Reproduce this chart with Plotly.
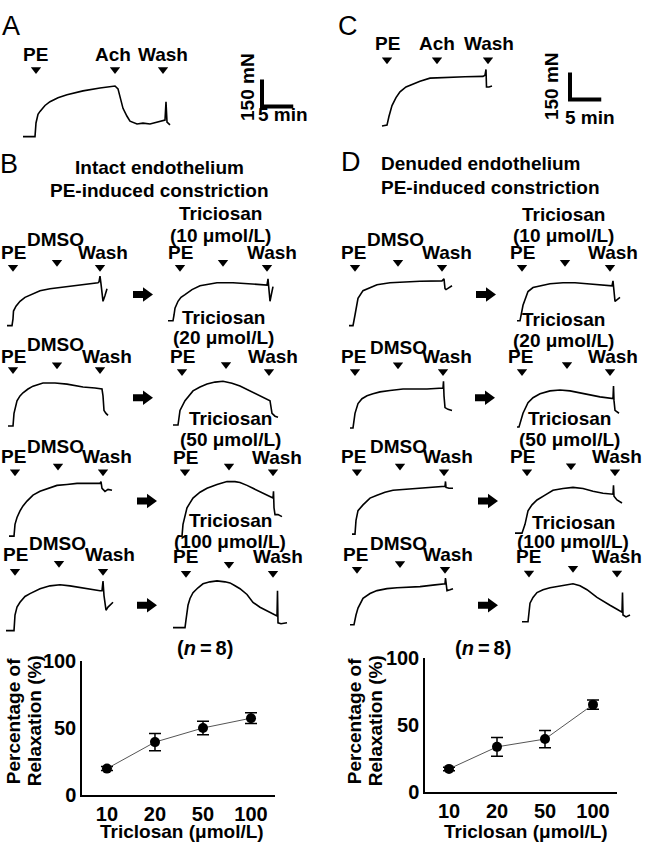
import plotly.graph_objects as go

W, H = 646, 852
MIN_PER_PX = 0.16      # recording time scale (5 min ~ 31 px)
MN_PER_PX = 5.4        # recording tension scale (150 mN ~ 28 px)
FONT = "Liberation Sans, Arial, Helvetica, sans-serif"
FS = 19

# ---------------- data: tension recordings (time in min, tension in mN above baseline) ----------
a_t = [0, 1.92, 2.08, 2.4, 2.72, 3.52, 4.32, 5.6, 7.04, 9.6, 12.32, 13.92, 14.72, 15.2, 15.68, 16.0,
       16.64, 17.12, 18.24, 19.2, 20.32, 21.6, 22.4, 22.72, 22.88, 23.04, 23.52]
a_v = [0, 0, 76, 124, 140, 173, 194, 216, 232, 254, 270, 275, 281, 265, 200, 157,
       113, 86, 70, 75, 70, 81, 86, 92, 194, 81, 65]
a_events = [2.08, 14.72, 22.4]

c_t = [0, 0.8, 1.12, 1.6, 2.24, 2.88, 3.84, 4.96, 6.08, 7.68, 10.4, 13.28, 16.16, 16.48, 16.64, 16.72, 17.12, 17.6]
c_v = [0, 5, 54, 113, 157, 189, 216, 232, 248, 265, 270, 273, 275, 281, 313, 216, 216, 221]
c_events = [0.8, 8.8, 16.96]

b1l_t = [0, 0.8, 0.96, 1.04, 1.44, 2.08, 2.88, 4.16, 5.28, 6.88, 9.6, 12.16, 14.56, 14.72, 14.88, 15.04, 15.36, 15.68, 16.0]
b1l_v = [0, 0, 38, 81, 108, 135, 157, 178, 194, 205, 216, 227, 238, 243, 275, 232, 135, 167, 205]
b1r_t = [0, 0.8, 0.96, 1.12, 1.6, 2.08, 2.72, 3.84, 5.12, 7.84, 10.4, 13.12, 15.52, 15.84, 16.0, 16.08, 16.32, 16.56, 16.8]
b1r_v = [0, 0, 32, 70, 108, 130, 145, 173, 194, 211, 211, 205, 200, 198, 232, 200, 108, 150, 189]
d1l_t = [0, 0.64, 0.96, 1.44, 2.24, 3.36, 4.48, 6.56, 8.64, 11.36, 14.88, 15.04, 15.2, 15.36, 15.52, 16.48]
d1l_v = [0, 0, 59, 151, 194, 211, 227, 238, 243, 246, 248, 254, 259, 205, 200, 221]
d1r_t = [0, 0.48, 0.96, 1.76, 2.56, 3.68, 5.28, 7.36, 9.28, 11.2, 13.28, 15.2, 15.36, 15.52, 15.68, 16.48]
d1r_v = [0, 0, 86, 162, 184, 194, 205, 211, 211, 205, 200, 194, 221, 151, 108, 130]

b2l_t = [0, 0.8, 0.96, 1.44, 1.92, 2.4, 3.2, 4.0, 5.6, 7.52, 9.44, 12.0, 13.92, 15.04, 15.2, 15.36, 15.68, 16.0]
b2l_v = [0, 0, 70, 140, 167, 184, 205, 221, 238, 238, 232, 216, 211, 205, 167, 86, 70, 59]
b2r_t = [0, 0.8, 1.12, 1.92, 3.2, 4.32, 5.44, 6.72, 8.0, 9.44, 10.72, 12.0, 13.44, 14.4, 15.2, 15.52, 15.84, 16.32, 16.8]
b2r_v = [0, 0, 81, 135, 189, 211, 227, 238, 243, 232, 216, 194, 173, 157, 140, 135, 65, 49, 43]
d2l_t = [0, 0.48, 0.8, 1.28, 1.92, 2.72, 3.68, 4.8, 6.4, 8.48, 10.4, 12.32, 14.88, 14.96, 15.04, 15.2, 15.68, 16.32]
d2l_v = [0, 0, 81, 135, 162, 178, 189, 200, 208, 216, 216, 216, 221, 259, 178, 113, 103, 97]
d2r_t = [0, 0.32, 0.96, 1.76, 2.56, 3.68, 5.28, 6.88, 8.48, 10.08, 11.68, 13.28, 15.36, 15.44, 15.52, 15.68, 16.32]
d2r_v = [0, 0, 76, 135, 162, 184, 200, 205, 200, 189, 178, 167, 157, 227, 146, 92, 76]

b3l_t = [0, 0.8, 0.96, 1.28, 1.76, 2.24, 2.88, 3.84, 4.96, 6.24, 7.68, 9.28, 10.88, 12.96, 14.56, 14.72, 14.88, 15.36, 15.84, 16.48]
b3l_v = [0, 0, 65, 103, 140, 167, 194, 227, 248, 265, 281, 286, 292, 292, 292, 302, 265, 248, 259, 254]
b3r_t = [0, 0.64, 0.8, 1.12, 1.44, 1.92, 2.4, 3.52, 4.64, 6.24, 7.84, 9.12, 9.92, 11.04, 12.0, 13.12, 14.24, 15.2,
         15.28, 15.36, 15.52, 16.0, 16.64]
b3r_v = [0, 0, 65, 113, 157, 184, 211, 243, 265, 286, 302, 302, 297, 281, 265, 248, 227, 211,
         248, 157, 119, 119, 108]
d3l_t = [0, 0.48, 0.64, 0.96, 1.76, 2.88, 4.0, 5.28, 6.56, 8.48, 10.88, 13.28, 14.88, 14.96, 15.04, 15.52, 16.16]
d3l_v = [0, 0, 76, 130, 162, 200, 216, 232, 243, 248, 254, 259, 265, 292, 259, 254, 254]
d3r_t = [0, 1.12, 1.6, 2.08, 2.72, 3.52, 4.8, 6.08, 7.68, 9.28, 10.88, 12.48, 14.08, 15.68, 15.76, 15.84, 16.32, 17.12]
d3r_v = [0, 0, 49, 124, 157, 184, 211, 238, 248, 254, 248, 232, 221, 216, 265, 205, 184, 167]

b4l_t = [0, 1.28, 1.44, 1.76, 2.24, 3.04, 3.84, 5.44, 7.04, 8.64, 10.24, 11.84, 13.44, 15.04, 15.36, 15.52, 15.68, 16.0, 16.32, 17.12]
b4l_v = [0, 0, 86, 130, 157, 189, 205, 232, 248, 254, 248, 238, 227, 221, 221, 275, 194, 113, 130, 157]
b4r_t = [0, 1.92, 2.08, 2.4, 2.72, 3.2, 4.0, 4.8, 5.92, 7.04, 8.32, 9.12, 9.92, 10.72, 11.84, 12.8, 13.92, 15.04,
         16.64, 16.72, 16.8, 17.28, 18.24]
b4r_v = [0, 0, 43, 124, 162, 194, 221, 243, 254, 259, 254, 248, 232, 216, 184, 140, 113, 92,
         65, 205, 27, 22, 27]
d4l_t = [0, 0.64, 0.96, 1.28, 2.08, 3.2, 4.32, 5.92, 7.52, 9.6, 11.2, 13.6, 15.2, 15.28, 15.36, 15.52, 16.0, 16.48]
d4l_v = [0, 0, 54, 92, 146, 173, 189, 200, 205, 208, 211, 221, 227, 259, 216, 189, 194, 200]
d4r_t = [0, 0.96, 1.28, 1.76, 2.4, 3.36, 4.48, 6.08, 8.16, 9.28, 10.4, 12.0, 12.96, 14.08, 15.2, 16.0, 16.08, 16.16, 16.64, 17.28]
d4r_v = [0, 0, 103, 135, 162, 178, 189, 200, 211, 200, 178, 135, 113, 92, 70, 54, 162, 38, 27, 38]

# event times (min): PE, DMSO / triclosan, Wash
b1l_ev = [0.96, 8.0, 14.88];  b1r_ev = [1.92, 8.8, 15.84]
d1l_ev = [0.96, 7.84, 14.88]; d1r_ev = [0.8, 7.68, 14.88]
b2l_ev = [0.8, 7.84, 14.72];  b2r_ev = [1.44, 8.48, 15.36]
d2l_ev = [0.8, 7.68, 14.88];  d2r_ev = [0.8, 8.0, 14.88]
b3l_ev = [0.96, 7.84, 15.04]; b3r_ev = [1.12, 8.16, 15.2]
d3l_ev = [0.8, 7.68, 14.72];  d3r_ev = [1.92, 8.96, 16.0]
b4l_ev = [1.44, 8.48, 15.52]; b4r_ev = [2.08, 8.96, 16.0]
d4l_ev = [1.12, 8.0, 15.2];   d4r_ev = [1.12, 8.16, 15.2]

SCALE_MIN = 5
SCALE_MN = 150

concentrations = ["10", "20", "50", "100"]
intact_mean = [19.8, 39.5, 50.0, 57.3]
intact_sem = [1.5, 6.5, 5.0, 4.0]
denuded_mean = [17.4, 33.8, 39.6, 65.2]
denuded_sem = [1.3, 7.0, 6.4, 3.5]

dose_labels = ["10", "20", "50", "100"]

# ---------------- figure ----------------
fig = go.Figure()
annotations = []
shapes = []
axes = {}


def keys(n):
    if n == 1:
        return "xaxis", "yaxis", "x", "y"
    return f"xaxis{n}", f"yaxis{n}", f"x{n}", f"y{n}"


def add_frame(n, ox, oy, left=8, right=150, up=100, down=28):
    xk, yk, xr, yr = keys(n)
    x0 = max(ox - left, 0); x1 = min(ox + right, W)
    y0 = max(oy - up, 0); y1 = min(oy + down, H)
    axes[xk] = dict(domain=[x0 / W, x1 / W], range=[(x0 - ox) * MIN_PER_PX, (x1 - ox) * MIN_PER_PX],
                    visible=False, anchor=yr, fixedrange=True)
    axes[yk] = dict(domain=[1 - y1 / H, 1 - y0 / H], range=[(oy - y1) * MN_PER_PX, (oy - y0) * MN_PER_PX],
                    visible=False, anchor=xr, fixedrange=True)
    return xr, yr


def txt(text, x, y, size=FS, bold=True, xanchor="center", angle=0):
    annotations.append(dict(text=(f"<b>{text}</b>" if bold else text), x=x / W, y=1 - y / H,
                            xref="paper", yref="paper", showarrow=False, xanchor=xanchor,
                            yanchor="middle", textangle=angle,
                            font=dict(family=FONT, size=size, color="black")))


L3 = ["PE", "DMSO", "Wash"]
R3 = ["PE", "", "Wash"]

recs = [
    dict(t=a_t, v=a_v, ox=23, oy=129, ev=a_events, lab=["PE", "Ach", "Wash"], arr=[373] * 3, lv=[454] * 3, xs=[-1, -2, 0], right=290, scale=(38.24, 167)),
    dict(t=c_t, v=c_v, ox=382, oy=118, ev=c_events, lab=["PE", "Ach", "Wash"], arr=[367] * 3, lv=[459] * 3, xs=[0, 0, 1], right=230, scale=(30.08, 146)),
    dict(t=b1l_t, v=b1l_v, ox=7, oy=323, ev=b1l_ev, lab=L3, arr=[324, 351, 324], lv=[405, 475, 405], xs=[0, -2, 3]),
    dict(t=b1r_t, v=b1r_v, ox=168, oy=318, ev=b1r_ev, lab=R3, arr=[297, 324, 297], lv=[378, 0, 378], xs=[0, 0, 5]),
    dict(t=d1l_t, v=d1l_v, ox=349, oy=323, ev=d1l_ev, lab=L3, arr=[324, 351, 324], lv=[405, 475, 405], xs=[-2, -3, 5]),
    dict(t=d1r_t, v=d1r_v, ox=517, oy=318, ev=d1r_ev, lab=R3, arr=[297, 324, 297], lv=[378, 0, 378], xs=[0, 0, 3]),
    dict(t=b2l_t, v=b2l_v, ox=8, oy=426, ev=b2l_ev, lab=L3, arr=[313, 340, 313], lv=[383, 454, 383], xs=[0, -2, 7]),
    dict(t=b2r_t, v=b2r_v, ox=173, oy=425, ev=b2r_ev, lab=R3, arr=[297, 335, 297], lv=[378, 0, 378], xs=[0, 0, 4]),
    dict(t=d2l_t, v=d2l_v, ox=350, oy=428, ev=d2l_ev, lab=L3, arr=[313, 351, 313], lv=[394, 448, 394], xs=[-2, 0, 4]),
    dict(t=d2r_t, v=d2r_v, ox=517, oy=427, ev=d2r_ev, lab=R3, arr=[308, 346, 308], lv=[389, 0, 389], xs=[-2, 0, 3]),
    dict(t=b3l_t, v=b3l_v, ox=9, oy=539, ev=b3l_ev, lab=L3, arr=[356, 389, 356], lv=[443, 497, 443], xs=[-2, -3, 4]),
    dict(t=b3r_t, v=b3r_v, ox=178, oy=539, ev=b3r_ev, lab=R3, arr=[356, 389, 356], lv=[437, 0, 437], xs=[0, 0, 4]),
    dict(t=d3l_t, v=d3l_v, ox=352, oy=537, ev=d3l_ev, lab=L3, arr=[346, 378, 346], lv=[432, 486, 432], xs=[-4, -2, 4]),
    dict(t=d3r_t, v=d3r_v, ox=515, oy=536, ev=d3r_ev, lab=R3, arr=[340, 373, 340], lv=[427, 0, 427], xs=[-5, 0, 2]),
    dict(t=b4l_t, v=b4l_v, ox=6, oy=636, ev=b4l_ev, lab=L3, arr=[329, 373, 329], lv=[421, 481, 421], xs=[0, -2, 7]),
    dict(t=b4r_t, v=b4r_v, ox=173, oy=633, ev=b4r_ev, lab=R3, arr=[302, 351, 302], lv=[394, 0, 394], xs=[-1, 0, 5]),
    dict(t=d4l_t, v=d4l_v, ox=350, oy=630, ev=d4l_ev, lab=L3, arr=[308, 340, 308], lv=[389, 448, 389], xs=[-2, -2, 3]),
    dict(t=d4r_t, v=d4r_v, ox=522, oy=627, ev=d4r_ev, lab=R3, arr=[270, 297, 270], lv=[362, 0, 362], xs=[-1, 0, 0]),
]

for i, r in enumerate(recs):
    n = i + 1
    xr, yr = add_frame(n, r["ox"], r["oy"], right=r.get("right", 150))
    fig.add_trace(go.Scatter(x=r["t"], y=r["v"], mode="lines", xaxis=xr, yaxis=yr,
                             line=dict(color="black", width=1.6), hoverinfo="skip", showlegend=False))
    fig.add_trace(go.Scatter(x=r["ev"], y=r["arr"], mode="markers", xaxis=xr, yaxis=yr,
                             marker=dict(symbol="triangle-down", size=9, color="black"),
                             hoverinfo="skip", showlegend=False))
    for e, lab, lv, xs in zip(r["ev"], r["lab"], r["lv"], r["xs"]):
        if lab:
            annotations.append(dict(text=f"<b>{lab}</b>", x=e, y=lv, xref=xr, yref=yr, xshift=xs,
                                    showarrow=False, xanchor="center", yanchor="middle",
                                    font=dict(family=FONT, size=FS, color="black")))
    if "scale" in r:
        t0, v0 = r["scale"]
        fig.add_trace(go.Scatter(x=[t0, t0, t0 + SCALE_MIN], y=[v0 + SCALE_MN, v0, v0], mode="lines",
                                 xaxis=xr, yaxis=yr, line=dict(color="black", width=4),
                                 hoverinfo="skip", showlegend=False))

# ---------------- dose-response charts ----------------
chart_font = dict(family=FONT, size=20, color="black", weight="bold")
for n, mean, sem, xd, yd, xrng in [
    (19, intact_mean, intact_sem, (82, 275), (667, 805), [-0.52, 3.5]),
    (20, denuded_mean, denuded_sem, (425, 617), (664, 802), [-0.5, 3.5]),
]:
    xk, yk, xr, yr = keys(n)
    fig.add_trace(go.Scatter(x=concentrations, y=mean, mode="lines+markers", xaxis=xr, yaxis=yr,
                             line=dict(color="#555555", width=1),
                             marker=dict(color="black", size=10),
                             error_y=dict(type="data", array=sem, color="black", thickness=1.5, width=6),
                             hoverinfo="skip", showlegend=False))
    axes[xk] = dict(domain=[xd[0] / W, xd[1] / W], range=xrng, type="category", anchor=yr,
                    showline=True, linecolor="black", linewidth=1.5, ticks="", showgrid=False,
                    zeroline=False, tickfont=chart_font, tickvals=concentrations, ticktext=dose_labels,
                    fixedrange=True)
    axes[yk] = dict(domain=[1 - yd[1] / H, 1 - yd[0] / H], range=[0, 100], anchor=xr,
                    showline=True, linecolor="black", linewidth=1.5, ticks="", showgrid=False,
                    zeroline=False, tickfont=chart_font, tickvals=[0, 50, 100], fixedrange=True)

# ---------------- texts ----------------
txt("A", 11, 15, size=27, bold=False)
txt("C", 348, 15, size=27, bold=False)
txt("B", 9, 157, size=27, bold=False)
txt("D", 351, 155, size=27, bold=False)

txt("150 mN", 248, 78, angle=-90)
txt("5 min", 283, 106)
txt("150 mN", 551, 77, angle=-90)
txt("5 min", 590, 109)

txt("Intact endothelium", 159, 161)
txt("PE-induced constriction", 159, 184)
txt("Denuded endothelium", 379, 157, xanchor="left")
txt("PE-induced constriction", 379, 181, xanchor="left")

for cx, y1, y2, dose in [(220, 208, 230, "10"), (223, 315, 335, "20"), (230, 418, 440, "50"), (230, 523, 545, "100"),
                         (563, 209, 230, "10"), (563, 317, 338, "20"), (569, 418, 440, "50"), (573, 525, 545, "100")]:
    txt("Triciosan", cx, y1)
    txt(f"({dose} μmol/L)", cx, y2)

for cx, cy in [(143, 291), (143, 397), (147, 503), (147, 610), (486, 291), (485, 397), (488, 503), (488, 610)]:
    pts = [(cx - 10, cy - 3.5), (cx, cy - 3.5), (cx, cy - 7.5), (cx + 10, cy), (cx, cy + 7.5), (cx, cy + 3.5), (cx - 10, cy + 3.5)]
    path = "M" + " L".join(f"{x / W:.5f},{1 - y / H:.5f}" for x, y in pts) + " Z"
    shapes.append(dict(type="path", path=path, xref="paper", yref="paper", fillcolor="black",
                       line=dict(width=0)))

for nx, ttl_x1, ttl_x2, xt in [(175, 13, 34, 182), (513, 354, 375, 526)]:
    annotations.append(dict(text="<b>(<i>n</i>\u2009=\u20098)</b>", x=nx / W, y=1 - 667 / H, xref="paper", yref="paper",
                            showarrow=False, font=dict(family=FONT, size=20, color="black")))
    txt("Percentage of", ttl_x1, 729, angle=-90)
    txt("Relaxation (%)", ttl_x2, 729, angle=-90)
    txt("Triclosan (μmol/L)", xt, 842)

fig.update_layout(width=W, height=H, autosize=False, margin=dict(l=0, r=0, t=0, b=0, pad=0),
                  paper_bgcolor="white", plot_bgcolor="rgba(0,0,0,0)", showlegend=False,
                  annotations=annotations, shapes=shapes, **axes)

fig.write_html("out.html", config={"displayModeBar": False},
               post_script="document.body.style.margin='0';document.body.style.overflow='hidden';")
